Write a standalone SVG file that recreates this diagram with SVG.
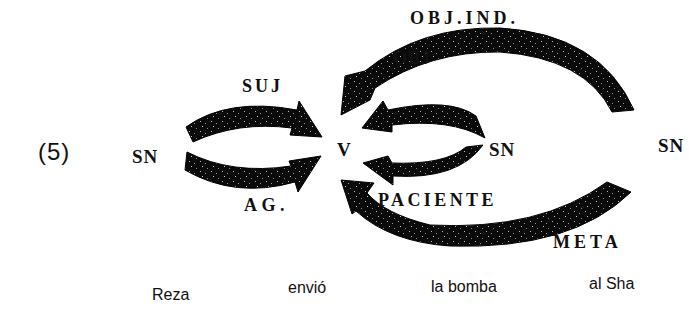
<svg xmlns="http://www.w3.org/2000/svg" width="689" height="320" viewBox="0 0 689 320">
<style>
.lab{font-family:"Liberation Serif",serif;font-size:18px;font-weight:bold;fill:#111}
.sn{font-family:"Liberation Serif",serif;font-size:19px;font-weight:bold;fill:#111}
.word{font-family:"Liberation Sans",sans-serif;font-size:16px;fill:#111}
.arr{fill:url(#grain);stroke:#000;stroke-width:1}
</style>
<defs>
<pattern id="grain" width="11" height="10" patternUnits="userSpaceOnUse">
<rect width="11" height="10" fill="#0a0a0a"/>
<rect x="2" y="1" width="1" height="1" fill="#bbb"/>
<rect x="7" y="3" width="1" height="1" fill="#999"/>
<rect x="4" y="6" width="1" height="1" fill="#ccc"/>
<rect x="9" y="8" width="1" height="1" fill="#888"/>
</pattern>
</defs>
<g id="label5"><text x="38" y="160" letter-spacing="1" style="font-family:'Liberation Sans',sans-serif;font-size:24px;fill:#111">(5)</text></g>
<g id="sn1"><text class="sn" x="132" y="163" letter-spacing="1">SN</text></g>
<g id="v"><text class="sn" x="337" y="156">V</text></g>
<g id="sn2"><text class="sn" x="489" y="156" letter-spacing="1">SN</text></g>
<g id="sn3"><text class="sn" x="658" y="152" letter-spacing="1">SN</text></g>
<g id="connectors">
<path id="suj" class="arr" d="M186,127 Q228,97 297,110 L299,101 L322,137 L290,135 L292,128 Q238,121 193,142 Z"/>
<path id="ag" class="arr" d="M187,152 Q232,175 291,166 L289,161 L321,156 L298,192 L295,182 Q235,199 185,170 Z"/>
<path id="obj" class="arr" d="M476,116 Q450,97 388,110 L383,101 L362,128 L392,132 L392,125 Q450,118 485,138 Z"/>
<path id="pac" class="arr" d="M483,145 Q458,180 393,176 L393,185 L363,163 L388,156 L392,163 Q445,165 466,147 Z"/>
<path id="objind" class="arr" d="M634,110 Q600,34 500,28 Q420,26 365,71 L345,76 L341,115 L370,100 L375,88 Q430,51 500,52 Q585,58 612,112 Z"/>
<path id="meta" class="arr" d="M631,192 Q572,250 450,246 Q390,242 356,211 L352,214 L341,180 L374,183 L367,193 Q385,214 430,225 Q540,231 607,182 Z"/>
<text class="lab" x="242" y="92" letter-spacing="3">SUJ</text>
<text class="lab" x="244" y="211" letter-spacing="4.5">AG.</text>
<text class="lab" x="393" y="64" letter-spacing="1">OBJ</text>
<text class="lab" x="410" y="24" letter-spacing="4">OBJ.IND.</text>
<text class="lab" x="378" y="206" letter-spacing="3.4">PACIENTE</text>
<text class="lab" x="553" y="248" letter-spacing="4">META</text>
</g>
<g id="words">
<text class="word" x="152" y="300">Reza</text>
<text class="word" x="288" y="293">envió</text>
<text class="word" x="431" y="292">la bomba</text>
<text class="word" x="589" y="289">al Sha</text>
</g>
</svg>
